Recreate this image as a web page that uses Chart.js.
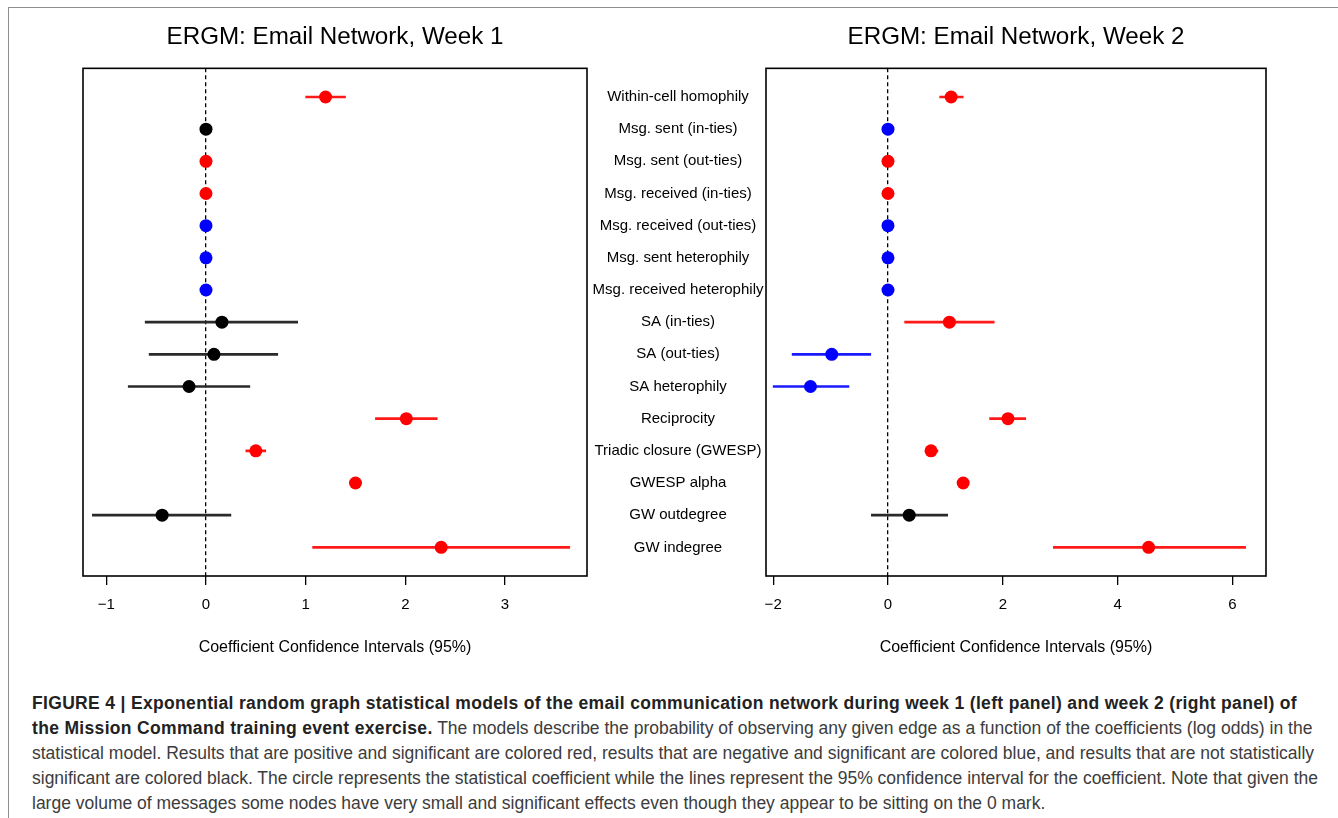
<!DOCTYPE html>
<html>
<head>
<meta charset="utf-8">
<script src="https://cdn.jsdelivr.net/npm/chart.js@4/dist/chart.umd.min.js"></script>
<style>
html,body{margin:0;padding:0;background:#fff;width:1338px;height:818px;overflow:hidden;font-family:"Liberation Sans",Arial,Helvetica,sans-serif;}
#frameTop{position:absolute;left:8px;top:6.5px;width:1330px;height:0;border-top:1.5px solid #8e8e8e;}
#frameLeft{position:absolute;left:8px;top:6.5px;width:0;height:812px;border-left:1.5px solid #8e8e8e;}
#p1{position:absolute;left:0;top:0;width:600px;height:672px;}
#p2{position:absolute;left:580px;top:0;width:700px;height:672px;}
#caption{position:absolute;left:32px;top:690.5px;font-size:17.5px;line-height:25px;color:#3c3c3c;white-space:nowrap;}
#caption b{color:#222;letter-spacing:0.33px;}
</style>
</head>
<body>
<div id="frameTop"></div>
<div id="frameLeft"></div>
<div id="p1"><canvas id="c1"></canvas></div>
<div id="p2"><canvas id="c2"></canvas></div>
<div id="caption">
<div><b>FIGURE 4 | Exponential random graph statistical models of the email communication network during week 1 (left panel) and week 2 (right panel) of</b></div>
<div><b>the Mission Command training event exercise.</b> The models describe the probability of observing any given edge as a function of the coefficients (log odds) in the</div>
<div>statistical model. Results that are positive and significant are colored red, results that are negative and significant are colored blue, and results that are not statistically</div>
<div>significant are colored black. The circle represents the statistical coefficient while the lines represent the 95% confidence interval for the coefficient. Note that given the</div>
<div>large volume of messages some nodes have very small and significant effects even though they appear to be sitting on the 0 mark.</div>
</div>
<script>
// ---------- data ----------
const categories = [
  "Within-cell homophily","Msg. sent (in-ties)","Msg. sent (out-ties)","Msg. received (in-ties)",
  "Msg. received (out-ties)","Msg. sent heterophily","Msg. received heterophily","SA (in-ties)",
  "SA (out-ties)","SA heterophily","Reciprocity","Triadic closure (GWESP)","GWESP alpha",
  "GW outdegree","GW indegree"
];
const week1Coef  = [1.20, 0, 0, 0, 0, 0, 0, 0.16, 0.08, -0.17, 2.01, 0.50, 1.50, -0.44, 2.36];
const week1Lower = [1.00, 0, 0, 0, 0, 0, 0, -0.61, -0.57, -0.78, 1.70, 0.40, 1.50, -1.14, 1.07];
const week1Upper = [1.40, 0, 0, 0, 0, 0, 0, 0.92, 0.72, 0.44, 2.32, 0.60, 1.50, 0.25, 3.65];
const week1Sig   = ["pos","ns","pos","pos","neg","neg","neg","ns","ns","ns","pos","pos","pos","ns","pos"];

const week2Coef  = [1.10, 0, 0, 0, 0, 0, 0, 1.07, -0.98, -1.35, 2.09, 0.75, 1.31, 0.37, 4.54];
const week2Lower = [0.90, 0, 0, 0, 0, 0, 0, 0.29, -1.67, -2.00, 1.77, 0.65, 1.31, -0.29, 2.88];
const week2Upper = [1.31, 0, 0, 0, 0, 0, 0, 1.85, -0.30, -0.68, 2.40, 0.87, 1.31, 1.04, 6.23];
const week2Sig   = ["pos","neg","pos","pos","neg","neg","neg","pos","neg","neg","pos","pos","pos","ns","pos"];

const week1TickValues = [-1, 0, 1, 2, 3];
const week1TickLabels = ["\u22121", "0", "1", "2", "3"];
const week2TickValues = [-2, 0, 2, 4, 6];
const week2TickLabels = ["\u22122", "0", "2", "4", "6"];

const titles = ["ERGM: Email Network, Week 1", "ERGM: Email Network, Week 2"];
const xAxisTitle = "Coefficient Confidence Intervals (95%)";

// ---------- styling ----------
const FONT = '"Liberation Sans", Arial, Helvetica, sans-serif';
const sigColor = { pos: "#ff0000", neg: "#0000ff", ns: "#000000" };
const lineColor = { pos: "#ff1a1a", neg: "#1a1aff", ns: "#2a2a2a" };
const LABEL_SIZE = 15;

const boxPlugin = {
  id: "box",
  afterDraw(chart) {
    const { ctx, chartArea: a } = chart;
    ctx.save();
    ctx.strokeStyle = "#000";
    ctx.lineWidth = 1.6;
    ctx.strokeRect(a.left, a.top, a.right - a.left, a.bottom - a.top);
    ctx.restore();
  }
};

function widestLabel() {
  const c = document.createElement("canvas").getContext("2d");
  c.font = LABEL_SIZE + "px " + FONT;
  return Math.max(...categories.map(s => c.measureText(s).width));
}

function makePanel(canvasId, title, coef, lower, upper, sig, tickValues, tickLabels, xmin, xmax, showLabels, layoutPad) {
  const rows = categories.map((_, i) => i + 1);
  const labelPad = Math.max(0, 88 - widestLabel() / 2);
  new Chart(document.getElementById(canvasId), {
    type: "scatter",
    data: {
      datasets: [
        {
          type: "bar",
          indexAxis: "y",
          data: rows.map((r, i) => ({ x: [lower[i], upper[i]], y: r })),
          backgroundColor: sig.map(s => lineColor[s]),
          borderWidth: 0,
          barThickness: 2,
          order: 2
        },
        {
          type: "scatter",
          data: rows.map((r, i) => ({ x: coef[i], y: r })),
          pointRadius: 6.5,
          pointHoverRadius: 6.5,
          pointBorderWidth: 0,
          pointBackgroundColor: sig.map(s => sigColor[s]),
          order: 1
        }
      ]
    },
    options: {
      responsive: true,
      maintainAspectRatio: false,
      animation: false,
      events: [],
      layout: { padding: layoutPad },
      plugins: {
        legend: { display: false },
        tooltip: { enabled: false },
        title: {
          display: true,
          text: title,
          fullSize: false,
          color: "#000",
          font: { family: FONT, size: 24.2, weight: "normal", lineHeight: 1.2 },
          padding: { top: 23, bottom: 16.3 }
        }
      },
      scales: {
        x: {
          type: "linear",
          min: xmin,
          max: xmax,
          offset: false,
          z: 1,
          afterBuildTicks: s => { s.ticks = tickValues.map(v => ({ value: v })); },
          afterFit: s => { s.height = 96; },
          grid: {
            offset: false,
            drawOnChartArea: true,
            color: c => (c.tick && c.tick.value === 0) ? "#000" : "rgba(0,0,0,0)",
            lineWidth: 1.3,
            borderDash: [4, 3],
            drawTicks: true,
            tickLength: 9,
            tickColor: "#000",
            tickWidth: 1.3
          },
          border: { display: false, dash: [4, 3] },
          ticks: {
            padding: 11,
            color: "#000",
            autoSkip: false,
            maxRotation: 0,
            font: { family: FONT, size: 15, lineHeight: 1.2 },
            callback: v => tickLabels[tickValues.indexOf(v)]
          },
          title: {
            display: true,
            text: xAxisTitle,
            color: "#000",
            font: { family: FONT, size: 16, lineHeight: 1.2 },
            padding: { top: 0, bottom: 15 }
          }
        },
        y: {
          type: "linear",
          min: 0.11,
          max: 15.89,
          reverse: true,
          offset: false,
          display: showLabels,
          afterBuildTicks: s => { s.ticks = rows.map(v => ({ value: v })); },
          afterFit: s => { if (showLabels) s.width = 186; },
          grid: { display: false, drawTicks: false, offset: false },
          border: { display: false },
          ticks: {
            crossAlign: "center",
            padding: labelPad,
            color: "#000",
            autoSkip: false,
            font: { family: FONT, size: LABEL_SIZE, lineHeight: 1.2 },
            callback: v => categories[v - 1]
          }
        }
      }
    },
    plugins: [boxPlugin]
  });
}

makePanel("c1", titles[0], week1Coef, week1Lower, week1Upper, week1Sig,
  week1TickValues, week1TickLabels, -1.234, 3.823, false, { left: 83, right: 13, top: 0, bottom: 0 });
makePanel("c2", titles[1], week2Coef, week2Lower, week2Upper, week2Sig,
  week2TickValues, week2TickLabels, -2.125, 6.585, true, { left: 0, right: 14, top: 0, bottom: 0 });
</script>
</body>
</html>
